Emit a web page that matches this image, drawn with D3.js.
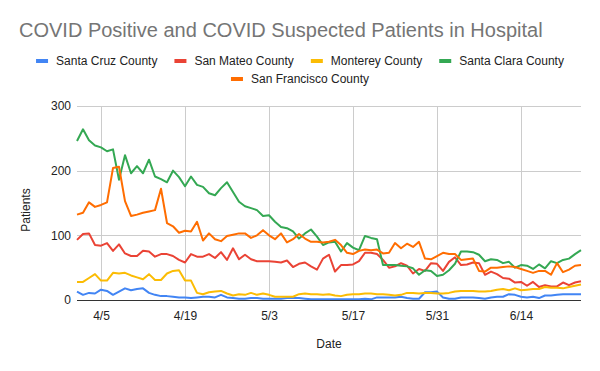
<!DOCTYPE html>
<html>
<head>
<meta charset="utf-8">
<script src="https://cdn.jsdelivr.net/npm/d3@7"></script>
<style>
  body { margin: 0; background: #fff; }
  svg { font-family: Arial, "Liberation Sans", sans-serif; }
  .grid line { stroke: #cccccc; stroke-width: 1; shape-rendering: crispEdges; }
  .series { fill: none; stroke-width: 2; stroke-linejoin: round; }
</style>
</head>
<body>
<div id="chart"></div>
<script>
// daily values, 4/1 .. 6/24
const startDate = new Date(2020, 3, 1);
const endDate = new Date(2020, 5, 24);

const santaCruz = [13, 8, 11, 10, 16, 14, 8, 13, 18, 15, 17, 18, 11, 8, 6, 6, 5, 4, 4, 3,
  4, 5, 5, 4, 8, 4, 3, 2, 2, 3, 3, 2, 2, 2, 2, 3, 3, 3, 2, 1,
  1, 1, 1, 1, 1, 1, 1, 1, 2, 1, 4, 4, 4, 4, 5, 3, 2, 2, 12, 12,
  13, 4, 2, 2, 4, 4, 4, 3, 2, 4, 5, 5, 9, 8, 5, 4, 5, 3, 7, 7,
  8, 9, 9, 9, 9];

const sanMateo = [93, 102, 103, 85, 84, 88, 76, 86, 72, 68, 68, 76, 75, 67, 71, 71, 68, 62, 58, 71,
  67, 67, 71, 65, 74, 62, 80, 63, 70, 63, 60, 60, 60, 59, 58, 61, 51, 56, 58, 52,
  47, 64, 70, 44, 54, 54, 55, 60, 73, 73, 71, 62, 50, 52, 57, 53, 41, 48, 45, 57,
  56, 45, 59, 66, 54, 55, 58, 57, 39, 44, 40, 34, 33, 27, 28, 22, 28, 20, 23, 21,
  21, 27, 23, 27, 29];

const monterey = [28, 28, 34, 40, 30, 30, 42, 41, 42, 38, 35, 32, 40, 31, 31, 41, 45, 46, 30, 30,
  11, 9, 12, 13, 14, 10, 7, 9, 8, 11, 8, 10, 8, 5, 5, 5, 5, 9, 10, 9,
  9, 8, 9, 7, 6, 8, 9, 9, 10, 10, 9, 9, 8, 7, 8, 11, 11, 10, 11, 11,
  10, 10, 11, 13, 14, 14, 14, 13, 13, 14, 16, 17, 15, 18, 15, 16, 17, 17, 20, 19,
  19, 18, 20, 22, 24];

const santaClara = [246, 264, 247, 239, 236, 230, 233, 186, 224, 196, 207, 196, 217, 191, 187, 182, 200, 190, 176, 191,
  178, 175, 165, 162, 173, 182, 167, 152, 145, 142, 139, 130, 131, 121, 113, 111, 106, 95, 103, 109,
  98, 85, 89, 90, 75, 88, 81, 77, 99, 96, 94, 54, 54, 54, 53, 52, 49, 39, 46, 45,
  37, 39, 46, 56, 75, 75, 74, 70, 60, 63, 62, 57, 59, 50, 54, 53, 48, 55, 49, 60,
  57, 62, 64, 71, 77];

const sanFrancisco = [132, 135, 151, 144, 147, 151, 204, 206, 153, 130, 132, 135, 137, 139, 172, 119, 114, 104, 107, 106,
  121, 92, 103, 94, 91, 99, 101, 103, 103, 96, 100, 108, 100, 94, 103, 89, 94, 102, 95, 90,
  90, 89, 90, 93, 85, 73, 71, 76, 78, 77, 78, 72, 73, 88, 80, 87, 82, 90, 64, 63,
  68, 73, 71, 71, 62, 63, 64, 45, 44, 50, 50, 51, 52, 51, 48, 45, 42, 45, 45, 39,
  57, 43, 47, 53, 54];

const seriesNames = ["Santa Cruz County", "San Mateo County", "Monterey County", "Santa Clara County", "San Francisco County"];
const seriesColors = ["#4285f4", "#ea4335", "#fbbc04", "#34a853", "#ff6d01"];
const seriesValues = [santaCruz, sanMateo, monterey, santaClara, sanFrancisco];

const xTickLabels = ["4/5", "4/19", "5/3", "5/17", "5/31", "6/14"];
const yTicks = [0, 100, 200, 300];

const width = 600;
const height = 371;
const margin = { top: 106, right: 19, bottom: 71, left: 77 };

const dates = d3.timeDay.range(startDate, d3.timeDay.offset(endDate, 1));

const svg = d3.select("#chart").append("svg")
  .attr("width", width)
  .attr("height", height);

const x = d3.scaleTime()
  .domain([startDate, endDate])
  .range([margin.left, width - margin.right]);

const y = d3.scaleLinear()
  .domain([0, 300])
  .range([height - margin.bottom, margin.top]);

const parseTick = (s) => {
  const [m, d] = s.split("/").map(Number);
  return new Date(2020, m - 1, d);
};
const xTickDates = xTickLabels.map(parseTick);

// gridlines
const grid = svg.append("g").attr("class", "grid");
grid.selectAll(".h")
  .data(yTicks.filter((v) => v > 0))
  .enter().append("line")
  .attr("x1", margin.left).attr("x2", width - margin.right)
  .attr("y1", (d) => Math.round(y(d)) + 0.5).attr("y2", (d) => Math.round(y(d)) + 0.5);
grid.selectAll(".v")
  .data(xTickDates)
  .enter().append("line")
  .attr("x1", (d) => Math.round(x(d)) + 0.5).attr("x2", (d) => Math.round(x(d)) + 0.5)
  .attr("y1", margin.top).attr("y2", y(0));

// axes
const xAxis = d3.axisBottom(x)
  .tickValues(xTickDates)
  .tickFormat((d, i) => xTickLabels[i])
  .tickSize(0)
  .tickPadding(11);

svg.append("g")
  .attr("class", "x-axis")
  .attr("transform", "translate(0," + y(0) + ")")
  .call(xAxis)
  .call((g) => g.select(".domain").remove())
  .selectAll("text")
  .style("font-size", "12px")
  .style("fill", "#222");

const yAxis = d3.axisLeft(y)
  .tickValues(yTicks)
  .tickSize(0)
  .tickPadding(6);

svg.append("g")
  .attr("class", "y-axis")
  .attr("transform", "translate(" + margin.left + ",0)")
  .call(yAxis)
  .call((g) => g.select(".domain").remove())
  .selectAll("text")
  .style("font-size", "12px")
  .style("fill", "#222");

// lines
const line = d3.line()
  .x((d, i) => x(dates[i]))
  .y((d) => y(d));

svg.append("g")
  .selectAll("path")
  .data(seriesValues)
  .enter().append("path")
  .attr("class", "series")
  .attr("stroke", (d, i) => seriesColors[i])
  .attr("d", line);

// baseline
svg.append("line")
  .attr("x1", margin.left).attr("x2", width - margin.right)
  .attr("y1", Math.round(y(0)) + 0.5).attr("y2", Math.round(y(0)) + 0.5)
  .style("stroke", "#333")
  .style("stroke-width", 1)
  .style("shape-rendering", "crispEdges");

// titles
svg.append("text")
  .attr("x", 19)
  .attr("y", 37)
  .style("font-size", "20px")
  .style("fill", "#757575")
  .text("COVID Positive and COVID Suspected Patients in Hospital");

svg.append("text")
  .attr("x", (margin.left + width - margin.right) / 2)
  .attr("y", 348)
  .attr("text-anchor", "middle")
  .style("font-size", "12px")
  .style("fill", "#222")
  .text("Date");

svg.append("text")
  .attr("transform", "translate(30," + 210 + ") rotate(-90)")
  .attr("text-anchor", "middle")
  .style("font-size", "12px")
  .style("fill", "#222")
  .text("Patients");

// legend, two centred rows
const legendRows = [[0, 1, 2, 3], [4]];
const rowY = [61, 79];
const swatchW = 12;
const swatchGap = 8;
const itemGap = 17;

const legend = svg.append("g");
legendRows.forEach((row, r) => {
  const items = row.map((i) => {
    const g = legend.append("g");
    g.append("rect")
      .attr("width", swatchW).attr("height", 4)
      .attr("y", rowY[r] - 2)
      .attr("fill", seriesColors[i]);
    const t = g.append("text")
      .attr("x", swatchW + swatchGap)
      .attr("y", rowY[r] + 4)
      .style("font-size", "12px")
      .style("fill", "#222")
      .text(seriesNames[i]);
    return { g, w: swatchW + swatchGap + t.node().getComputedTextLength() };
  });
  const total = d3.sum(items, (d) => d.w) + itemGap * (items.length - 1);
  let cx = width / 2 - total / 2;
  items.forEach((it) => {
    it.g.attr("transform", "translate(" + cx + ",0)");
    cx += it.w + itemGap;
  });
});
</script>
</body>
</html>
